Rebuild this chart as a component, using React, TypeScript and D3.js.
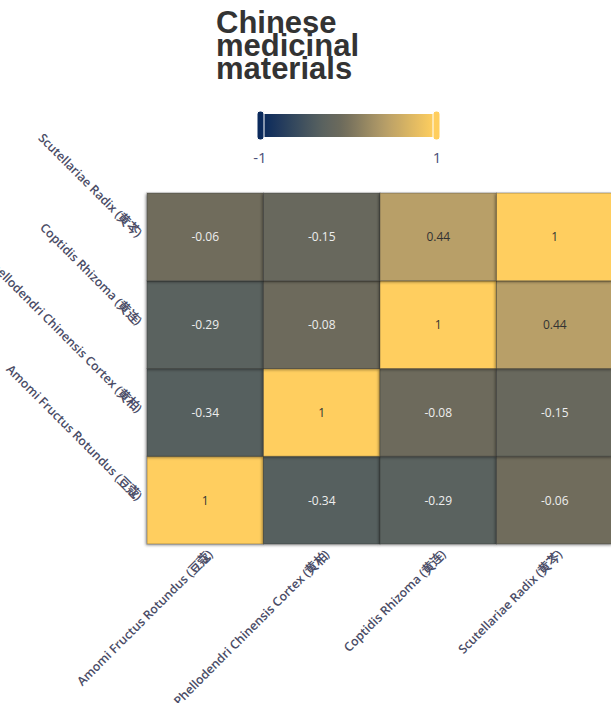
import React from "react";
import * as d3 from "d3";

const xCategories = [
  "Amomi Fructus Rotundus (豆蔻)",
  "Phellodendri Chinensis Cortex (黄柏)",
  "Coptidis Rhizoma (黄连)",
  "Scutellariae Radix (黄芩)",
];
const yCategories = [
  "Amomi Fructus Rotundus (豆蔻)",
  "Phellodendri Chinensis Cortex (黄柏)",
  "Coptidis Rhizoma (黄连)",
  "Scutellariae Radix (黄芩)",
];
// rows follow yCategories (bottom to top), columns follow xCategories
const rowAmomi = [1, -0.34, -0.29, -0.06];
const rowPhellodendri = [-0.34, 1, -0.08, -0.15];
const rowCoptidis = [-0.29, -0.08, 1, 0.44];
const rowScutellariae = [-0.06, -0.15, 0.44, 1];
const matrix = [rowAmomi, rowPhellodendri, rowCoptidis, rowScutellariae];
const legendTicks = ["-1", "1"];
const titleLines = ["Chinese", "medicinal", "materials"];

const W = 611;
const H = 703;
const grid = { left: 147, top: 193, width: 466, height: 351 };

const colorDomain = [-1, -0.34, -0.06, 0.44, 1];
const colorRange = ["#0b2a5c", "#56605f", "#6f6c5c", "#b89f68", "#ffce5e"];

export default function App() {
  const x = d3.scaleBand<string>().domain(xCategories).range([grid.left, grid.left + grid.width]);
  const y = d3.scaleBand<string>().domain(yCategories).range([grid.top + grid.height, grid.top]);
  const color = d3.scaleLinear<string>().domain(colorDomain).range(colorRange).interpolate(d3.interpolateRgb);

  const cells: { xi: number; yi: number; v: number }[] = [];
  matrix.forEach((row, yi) => row.forEach((v, xi) => cells.push({ xi, yi, v })));

  const legend = { x: 263, y: 114, w: 171, h: 23 };
  const legendScale = d3.scaleLinear().domain([-1, 1]).range([legend.x, legend.x + legend.w]);
  const stops = d3.range(0, 1.0001, 0.05);

  const labelFont = "'Open Sans', 'Noto Sans', sans-serif";

  return (
    <svg width={W} height={H} style={{ position: "absolute", left: 0, top: 0, background: "#fff" }}>
      <defs>
        <linearGradient id="lg" x1="0" x2="1" y1="0" y2="0">
          {stops.map((s) => (
            <stop key={s} offset={`${s * 100}%`} stopColor={color(-1 + 2 * s)} />
          ))}
        </linearGradient>
        <filter id="sh" x="-20%" y="-20%" width="140%" height="140%">
          <feDropShadow dx="-1" dy="1" stdDeviation="1.5" floodColor="#000" floodOpacity="0.45" />
        </filter>
      </defs>

      {/* title */}
      <text fontFamily="'Liberation Sans', Arial, sans-serif" fontWeight="bold" fontSize={31} fill="#333">
        {titleLines.map((t, i) => (
          <tspan key={t} x={216} y={33 + i * 22.8}>
            {t}
          </tspan>
        ))}
      </text>

      {/* visual map */}
      <rect x={legend.x} y={legend.y} width={legend.w} height={legend.h} fill="url(#lg)" />
      <rect x={legendScale(-1) - 6} y={legend.y - 3} width={7} height={legend.h + 6} rx={3} fill={color(-1)} stroke="#fff" strokeWidth={1} />
      <rect x={legendScale(1) - 1} y={legend.y - 3} width={7} height={legend.h + 6} rx={3} fill={color(1)} stroke="#fff" strokeWidth={1} />
      <text x={legendScale(-1) - 3} y={163} textAnchor="middle" fontFamily={labelFont} fontSize={15} fill="#4b4f78">
        {legendTicks[0]}
      </text>
      <text x={legendScale(1) + 3} y={163} textAnchor="middle" fontFamily={labelFont} fontSize={15} fill="#4b4f78">
        {legendTicks[1]}
      </text>

      {/* cells */}
      <g>
        {cells.map((c) => (
          <rect
            key={`${c.xi}-${c.yi}`}
            x={x(xCategories[c.xi])!}
            y={y(yCategories[c.yi])!}
            width={x.bandwidth()}
            height={y.bandwidth()}
            fill={color(c.v)}
            stroke="rgba(40,40,40,0.35)"
            strokeWidth={1}
            filter="url(#sh)"
          />
        ))}
      </g>
      <g>
        {cells.map((c) => (
          <text
            key={`t-${c.xi}-${c.yi}`}
            x={x(xCategories[c.xi])! + x.bandwidth() / 2}
            y={y(yCategories[c.yi])! + y.bandwidth() / 2}
            textAnchor="middle"
            dominantBaseline="central"
            fontFamily={labelFont}
            fontSize={12}
            fill={c.v > 0.3 ? "#333" : "#eee"}
          >
            {c.v}
          </text>
        ))}
      </g>

      {/* x axis labels */}
      {xCategories.map((cat) => {
        const cx = x(cat)! + x.bandwidth() / 2 + 5;
        const cy = grid.top + grid.height + 8;
        return (
          <text
            key={cat}
            transform={`translate(${cx},${cy}) rotate(-45)`}
            textAnchor="end"
            dominantBaseline="central"
            fontFamily={labelFont}
            fontWeight={600}
            fontSize={12.3}
            fill="#4a4c66"
          >
            {cat}
          </text>
        );
      })}

      {/* y axis labels */}
      {yCategories.map((cat) => {
        const cx = grid.left - 7;
        const cy = y(cat)! + y.bandwidth() / 2 - 2;
        return (
          <text
            key={cat}
            transform={`translate(${cx},${cy}) rotate(45)`}
            textAnchor="end"
            dominantBaseline="central"
            fontFamily={labelFont}
            fontWeight={600}
            fontSize={12.3}
            fill="#4a4c66"
          >
            {cat}
          </text>
        );
      })}
    </svg>
  );
}
